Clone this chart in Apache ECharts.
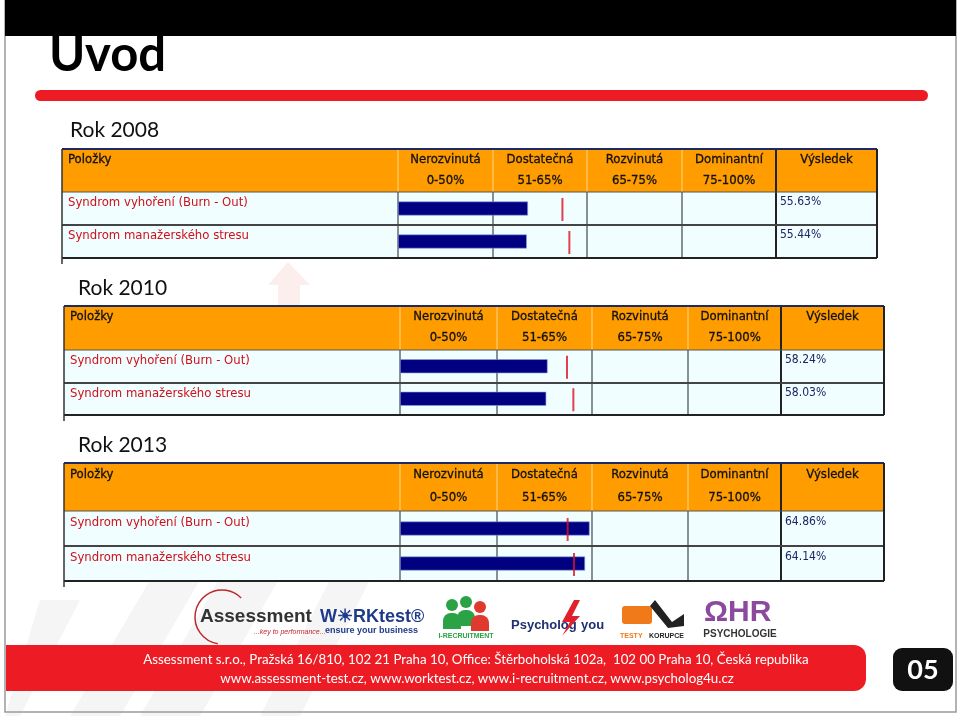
<!DOCTYPE html>
<html><head><meta charset="utf-8">
<script src="https://cdn.jsdelivr.net/npm/echarts@6/dist/echarts.min.js"></script>
<style>html,body{margin:0;padding:0;background:#fff;overflow:hidden}#c{width:960px;height:716px}</style>
</head><body><div id="c"></div>
<script>
// ---------- data ----------
const slideTitle = 'Uvod';
const years = ['Rok 2008', 'Rok 2010', 'Rok 2013'];
const items = ['Syndrom vyhoření (Burn - Out)', 'Syndrom manažerského stresu'];
const headerFirst = 'Položky';
const headerLast = 'Výsledek';
const levelNames = ['Nerozvinutá', 'Dostatečná', 'Rozvinutá', 'Dominantní'];
const levelRanges = ['0-50%', '51-65%', '65-75%', '75-100%'];
const levelBreaks = [0, 50, 65, 75, 100];
const results2008 = [55.63, 55.44];
const results2010 = [58.24, 58.03];
const results2013 = [64.86, 64.14];
const targets2008 = [61.1, 62.2];
const targets2010 = [61.3, 62.3];
const targets2013 = [61.4, 62.4];
const footerLine1 = 'Assessment s.r.o., Pražská 16/810, 102 21 Praha 10, Office: Štěrboholská 102a,  102 00 Praha 10, Česká republika';
const footerLine2 = 'www.assessment-test.cz, www.worktest.cz, www.i-recruitment.cz, www.psycholog4u.cz';
const pageNo = '05';

const resultsByYear = [results2008, results2010, results2013];
const targetsByYear = [targets2008, targets2010, targets2013];

// ---------- layout (positions only) ----------
const layout = [
  {label: [70, 130], top: 149, head: 192, mid: 225, bottom: 258, edges: [62, 398, 493, 587, 682, 776, 877]},
  {label: [78, 288], top: 306, head: 350, mid: 383, bottom: 415, edges: [64, 400, 497, 592, 688, 781, 884]},
  {label: [78, 445], top: 463, head: 511, mid: 546, bottom: 581, edges: [64, 400, 497, 592, 688, 781, 884]}
];

// piecewise mapping of a percentage onto the 4 equal-width level columns
function toAxis(v) {
  for (let i = 0; i < levelBreaks.length - 1; i++) {
    if (v <= levelBreaks[i + 1]) return i + (v - levelBreaks[i]) / (levelBreaks[i + 1] - levelBreaks[i]);
  }
  return levelBreaks.length - 1;
}

const TF = '"DejaVu Sans Condensed","DejaVu Sans",sans-serif';
const graphic = [];
// background stripes
const stripes = [[150,580,200,580,120,716,70,716],[230,560,290,560,200,716,140,716],[330,580,370,580,300,716,260,716],[40,600,80,600,20,716,5,716]];
stripes.forEach(p => graphic.push({type:'polygon', z:0, shape:{points:[[p[0],p[1]],[p[2],p[3]],[p[4],p[5]],[p[6],p[7]]]}, style:{fill:'#f5f5f5'}}));
graphic.push({type:'polygon', z:0, shape:{points:[[268,285],[288,262],[310,285],[300,285],[300,305],[278,305],[278,285]]}, style:{fill:'#fdeeee'}});

// slide frame and title
graphic.push({type:'rect', z:1, shape:{x:5, y:0, width:951, height:712}, style:{fill:'none', stroke:'#9a9a9a', lineWidth:1.5}});
graphic.push({type:'text', z:4, style:{text:slideTitle, x:49, y:80, textVerticalAlign:'bottom', font:'bold 49px Lato, "Open Sans", sans-serif', fill:'#000'}});
graphic.push({type:'rect', z:5, shape:{x:5, y:0, width:951, height:36}, style:{fill:'#000'}});
graphic.push({type:'rect', z:3, shape:{x:35, y:90, width:893, height:11, r:5.5}, style:{fill:'#ED1C24'}});

layout.forEach((L, t) => {
  const e = L.edges;
  graphic.push({type:'text', z:3, style:{text:years[t], x:L.label[0], y:L.label[1], textVerticalAlign:'middle', font:'21px Lato, "Open Sans", sans-serif', fill:'#111'}});
  graphic.push({type:'rect', z:1, shape:{x:e[0], y:L.top, width:e[6]-e[0], height:L.head-L.top}, style:{fill:'#FF9D00'}});
  graphic.push({type:'rect', z:1, shape:{x:e[0], y:L.head, width:e[6]-e[0], height:L.bottom-L.head}, style:{fill:'#F0FEFF'}});
  for (let i = 1; i < 6; i++) graphic.push({type:'line', z:2, shape:{x1:e[i], y1:L.top, x2:e[i], y2:L.head}, style:{stroke: i===5 ? '#222' : '#ffd58a', lineWidth: i===5 ? 2 : 1}});
  for (let i = 1; i < 6; i++) graphic.push({type:'line', z:2, shape:{x1:e[i], y1:L.head, x2:e[i], y2:L.bottom}, style:{stroke:'#222', lineWidth: i===5 ? 2 : 1}});
  graphic.push({type:'line', z:2, shape:{x1:e[0], y1:L.top, x2:e[6], y2:L.top}, style:{stroke:'#1c2a66', lineWidth:2}});
  graphic.push({type:'line', z:2, shape:{x1:e[0], y1:L.head, x2:e[6], y2:L.head}, style:{stroke:'#555', lineWidth:1}});
  graphic.push({type:'line', z:2, shape:{x1:e[0], y1:L.mid, x2:e[6], y2:L.mid}, style:{stroke:'#444', lineWidth:2}});
  graphic.push({type:'line', z:2, shape:{x1:e[0], y1:L.bottom, x2:e[6], y2:L.bottom}, style:{stroke:'#222', lineWidth:2}});
  graphic.push({type:'line', z:2, shape:{x1:e[0], y1:L.top, x2:e[0], y2:L.bottom+6}, style:{stroke:'#333', lineWidth:1.5}});
  graphic.push({type:'line', z:2, shape:{x1:e[6], y1:L.top, x2:e[6], y2:L.bottom}, style:{stroke:'#222', lineWidth:2}});
  const hh = L.head - L.top;
  const HF = '13px ' + TF;
  graphic.push({type:'text', z:3, style:{text:headerFirst, x:e[0]+6, y:L.top+hh*0.25, textVerticalAlign:'middle', font:HF, fill:'#111', stroke:'#111', lineWidth:0.3}});
  levelNames.forEach((n, i) => {
    const cx = (e[i+1] + e[i+2]) / 2;
    graphic.push({type:'text', z:3, style:{text:n, x:cx, y:L.top+hh*0.25, textAlign:'center', textVerticalAlign:'middle', font:HF, fill:'#111', stroke:'#111', lineWidth:0.3}});
    graphic.push({type:'text', z:3, style:{text:levelRanges[i], x:cx, y:L.top+hh*0.73, textAlign:'center', textVerticalAlign:'middle', font:HF, fill:'#111', stroke:'#111', lineWidth:0.3}});
  });
  graphic.push({type:'text', z:3, style:{text:headerLast, x:(e[5]+e[6])/2, y:L.top+hh*0.25, textAlign:'center', textVerticalAlign:'middle', font:HF, fill:'#111', stroke:'#111', lineWidth:0.3}});
  const rows = [[L.head, L.mid], [L.mid, L.bottom]];
  items.forEach((it, r) => {
    const rt = rows[r][0], rh = rows[r][1] - rows[r][0];
    graphic.push({type:'text', z:3, style:{text:it, x:e[0]+6, y:rt+rh*0.33, textVerticalAlign:'middle', font:'13px '+TF, fill:'#D0101A'}});
    graphic.push({type:'text', z:3, style:{text:resultsByYear[t][r].toFixed(2)+'%', x:e[5]+4, y:rt+rh*0.3, textVerticalAlign:'middle', font:'12px '+TF, fill:'#1c2466'}});
  });
});

// logos (approximated)
graphic.push({type:'arc', z:3, shape:{cx:222, cy:617, r:27, startAngle:Math.PI*0.55, endAngle:Math.PI*1.75}, style:{stroke:'#c0282d', lineWidth:1.5, fill:'none'}});
graphic.push({type:'text', z:3, style:{text:'Assessment', x:200, y:617, textVerticalAlign:'middle', font:'bold 19px "Liberation Sans", Arial, sans-serif', fill:'#333'}});
graphic.push({type:'text', z:3, style:{text:'...key to performance...', x:254, y:632, textVerticalAlign:'middle', font:'italic 7px "Liberation Sans", sans-serif', fill:'#c0282d'}});
graphic.push({type:'text', z:3, style:{text:'W☀RKtest®', x:320, y:617, textVerticalAlign:'middle', font:'bold 18px "Liberation Sans", Arial, sans-serif', fill:'#1f3a8a'}});
graphic.push({type:'text', z:3, style:{text:'ensure your business', x:325, y:631, textVerticalAlign:'middle', font:'bold 9px "Liberation Sans", Arial, sans-serif', fill:'#1f3a8a'}});
[[452,605,'#2aa245'],[466,602,'#2aa245'],[480,607,'#e03a2e']].forEach(p => {
  graphic.push({type:'circle', z:3, shape:{cx:p[0], cy:p[1], r:6}, style:{fill:p[2]}});
  graphic.push({type:'rect', z:3, shape:{x:p[0]-9, y:p[1]+8, width:18, height:16, r:[8,8,0,0]}, style:{fill:p[2]}});
});
graphic.push({type:'text', z:3, style:{text:'I-RECRUITMENT', x:466, y:636, textAlign:'center', textVerticalAlign:'middle', font:'bold 7px "Liberation Sans", sans-serif', fill:'#2aa245'}});
graphic.push({type:'text', z:3, style:{text:'Psycholog', x:511, y:625, textVerticalAlign:'middle', font:'bold 13px "Liberation Sans", Arial, sans-serif', fill:'#1f2f70'}});
graphic.push({type:'polygon', z:3, shape:{points:[[574,600],[562,622],[570,622],[562,636],[580,616],[572,616],[580,600]]}, style:{fill:'#e0202a'}});
graphic.push({type:'text', z:3, style:{text:'you', x:581, y:625, textVerticalAlign:'middle', font:'bold 13px "Liberation Sans", Arial, sans-serif', fill:'#1f2f70'}});
graphic.push({type:'rect', z:3, shape:{x:622, y:606, width:30, height:18, r:3}, style:{fill:'#f07a1a'}});
graphic.push({type:'polygon', z:3, shape:{points:[[655,600],[672,622],[684,614],[684,626],[668,628],[650,606]]}, style:{fill:'#222'}});
graphic.push({type:'text', z:3, style:{text:'TESTY', x:620, y:636, textVerticalAlign:'middle', font:'bold 7px "Liberation Sans", sans-serif', fill:'#f07a1a'}});
graphic.push({type:'text', z:3, style:{text:'KORUPCE', x:649, y:636, textVerticalAlign:'middle', font:'bold 7px "Liberation Sans", sans-serif', fill:'#222'}});
graphic.push({type:'text', z:3, style:{text:'ΩHR', x:704, y:613, textVerticalAlign:'middle', font:'bold 30px "Liberation Sans", Arial, sans-serif', fill:'#8c4a9e'}});
graphic.push({type:'text', z:3, style:{text:'PSYCHOLOGIE', x:740, y:634, textAlign:'center', textVerticalAlign:'middle', font:'bold 10px "Liberation Sans", sans-serif', fill:'#333'}});

// footer
graphic.push({type:'rect', z:3, shape:{x:6, y:645, width:860, height:46, r:[0,12,12,0]}, style:{fill:'#ED1C24'}});
graphic.push({type:'text', z:4, style:{text:footerLine1, x:476, y:660, textAlign:'center', textVerticalAlign:'middle', font:'13.3px Lato, "Open Sans", sans-serif', fill:'#fff'}});
graphic.push({type:'text', z:4, style:{text:footerLine2, x:477, y:679, textAlign:'center', textVerticalAlign:'middle', font:'13.3px Lato, "Open Sans", sans-serif', fill:'#fff'}});
graphic.push({type:'rect', z:3, shape:{x:893, y:648, width:60, height:43, r:9}, style:{fill:'#111'}});
graphic.push({type:'text', z:4, style:{text:pageNo, x:923, y:670, textAlign:'center', textVerticalAlign:'middle', font:'bold 27px Lato, "Open Sans", sans-serif', fill:'#fff'}});

// ---------- grids / series ----------
const grids = [], xAxes = [], yAxes = [], series = [];
layout.forEach((L, t) => {
  grids.push({left: L.edges[1], width: L.edges[5] - L.edges[1], top: L.head, height: L.bottom - L.head, containLabel: false});
  xAxes.push({type:'value', gridIndex:t, min:0, max:levelBreaks.length - 1, show:false});
  yAxes.push({type:'category', gridIndex:t, data:items, inverse:true, show:false});
  series.push({type:'bar', xAxisIndex:t, yAxisIndex:t, barWidth:14, z:5,
    data: resultsByYear[t].map(toAxis),
    itemStyle:{color:'#000080', borderColor:'#8aa0e0', borderWidth:0.6}, silent:true});
  series.push({type:'scatter', xAxisIndex:t, yAxisIndex:t, z:6, symbol:'rect', symbolSize:[2, 23], symbolOffset:[0, 1],
    data: targetsByYear[t].map(toAxis), itemStyle:{color:'#E01020'}, silent:true});
});

const chart = echarts.init(document.getElementById('c'), null, {renderer:'canvas'});
chart.setOption({
  animation:false,
  backgroundColor:'#fff',
  grid: grids, xAxis: xAxes, yAxis: yAxes, series: series,
  graphic: {elements: graphic}
});
</script></body></html>
